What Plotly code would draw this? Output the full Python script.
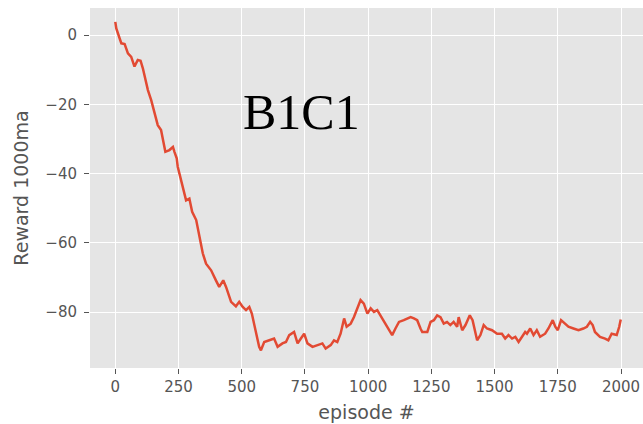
import plotly.graph_objects as go

episodes = [0, 4, 15, 24, 37, 50, 63, 76, 89, 100, 109, 120, 129, 142, 155, 168, 181, 190, 198,
            214, 228, 234, 243, 247, 260, 280, 293, 304, 320, 333, 346, 359, 379, 398, 411, 427,
            438, 458, 477, 490, 504, 517, 530, 540, 556, 569, 576, 589, 609, 628, 642, 661, 675,
            688, 707, 721, 734, 747, 760, 780, 800, 819, 832, 852, 865, 878, 891, 905, 915, 931,
            944, 957, 970, 983, 997, 1010, 1023, 1036, 1049, 1062, 1076, 1095, 1108, 1122, 1141,
            1154, 1168, 1181, 1194, 1207, 1214, 1234, 1247, 1260, 1273, 1286, 1299, 1312, 1325,
            1338, 1352, 1358, 1372, 1385, 1402, 1413, 1421, 1431, 1444, 1457, 1470, 1490, 1510,
            1529, 1542, 1555, 1569, 1582, 1595, 1608, 1621, 1628, 1641, 1654, 1667, 1680, 1700,
            1713, 1730, 1740, 1750, 1763, 1779, 1792, 1812, 1832, 1851, 1865, 1878, 1888, 1897,
            1917, 1937, 1950, 1963, 1983, 1993, 1999]
reward = [3.8, 1.9, -0.5, -2.4, -2.6, -5.3, -6.3, -9.1, -7.2, -7.4, -9.6, -13.5, -15.9, -18.8,
          -22.6, -26.0, -27.4, -30.3, -33.7, -33.2, -32.3, -33.7, -35.6, -38.0, -41.9, -47.7,
          -47.2, -51.0, -53.4, -58.3, -63.0, -66.0, -67.9, -70.8, -72.7, -70.8, -72.7, -77.0,
          -78.3, -77.0, -78.5, -79.4, -78.5, -80.4, -85.2, -90.0, -91.0, -88.6, -88.1, -87.6,
          -90.0, -89.0, -88.6, -86.6, -85.7, -89.0, -87.6, -86.2, -89.0, -90.0, -89.5, -89.0,
          -90.5, -89.5, -88.1, -88.6, -86.2, -81.8, -84.2, -83.3, -81.4, -78.9, -76.5, -77.5,
          -80.4, -78.9, -79.9, -79.4, -80.9, -82.8, -84.2, -86.6, -84.7, -82.8, -82.3, -81.8,
          -81.4, -81.8, -82.3, -84.7, -85.7, -85.7, -82.8, -82.3, -80.9, -81.4, -83.3, -82.8,
          -83.7, -82.8, -84.2, -81.4, -85.2, -83.7, -80.9, -82.3, -84.7, -88.1, -86.6, -83.7,
          -84.7, -85.2, -86.2, -86.2, -87.6, -86.6, -87.6, -87.1, -88.6, -87.1, -85.7, -86.2,
          -84.7, -86.6, -85.2, -87.1, -86.2, -84.7, -82.3, -84.2, -85.2, -82.3, -83.3, -84.2,
          -84.7, -85.2, -84.7, -84.2, -82.8, -83.7, -85.7, -87.1, -87.6, -88.1, -86.2, -86.6,
          -84.2, -82.1]

x_ticks = [0, 250, 500, 750, 1000, 1250, 1500, 1750, 2000]
y_ticks = [0, -20, -40, -60, -80]
y_tick_text = ["0", "\u221220", "\u221240", "\u221260", "\u221280"]

fig = go.Figure()
fig.add_trace(go.Scatter(x=episodes, y=reward, mode="lines",
                         line=dict(color="#E24A33", width=2.5), showlegend=False))

axis_font = dict(family="DejaVu Sans", size=15, color="#555555")
title_font = dict(family="DejaVu Sans", size=19, color="#555555")
fig.update_layout(
    width=643, height=424,
    margin=dict(l=90, r=0, t=8, b=56, pad=0),
    paper_bgcolor="white", plot_bgcolor="#E5E5E5",
    font=axis_font,
    xaxis=dict(range=[-100, 2087], tickvals=x_ticks, ticktext=[str(v) for v in x_ticks],
               showgrid=True, gridcolor="white", gridwidth=1.2, zeroline=False,
               ticks="outside", ticklen=5, tickwidth=1, tickcolor="#555555",
               tickfont=axis_font, showline=False, automargin=False,
               title=dict(text="episode #", font=title_font, standoff=10)),
    yaxis=dict(range=[-96.1, 7.8], tickvals=y_ticks, ticktext=y_tick_text,
               showgrid=True, gridcolor="white", gridwidth=1.2, zeroline=False,
               ticks="outside", ticklen=5, tickwidth=1, tickcolor="#555555",
               tickfont=axis_font, showline=False, ticklabelstandoff=4, automargin=False,
               title=dict(text="Reward 1000ma", font=title_font, standoff=11)),
    annotations=[dict(x=497, y=-22.2, xref="x", yref="y", text="B1C1", showarrow=False,
                      xanchor="left", yanchor="middle",
                      font=dict(family="Liberation Serif", size=50, color="black"))],
)

fig.write_html("out.html", config={"displayModeBar": False},
               post_script="document.body.style.margin='0';document.body.style.overflow='hidden';")
